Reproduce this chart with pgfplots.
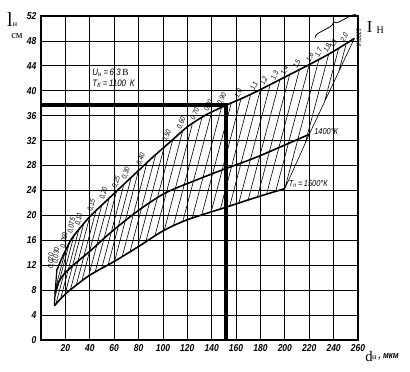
\documentclass[border=0pt]{standalone}
\usepackage{fontspec}
\setmainfont{Liberation Serif}
\newfontfamily\gost[FakeStretch=0.85]{Liberation Sans}
\usepackage{pgfplots}
\pgfplotsset{compat=1.18}
\usetikzlibrary{decorations.pathreplacing}
\newcommand\lab[4]{\node[rotate=#3,anchor=south west,inner sep=0.3pt,font=\gost\itshape\fontsize{5.5}{5.5}\selectfont] at (axis cs:#1,#2) {#4};}
\begin{document}
\begin{tikzpicture}
\useasboundingbox (-30.75pt,-23.25pt) rectangle (276.75pt,255pt);
\begin{axis}[
  at={(0,0)}, anchor=south west,
  scale only axis, width=237.75pt, height=243pt,
  xmin=0, xmax=260, ymin=0, ymax=52,
  xtick={20,40,...,260}, ytick={0,4,...,52},
  grid=major, major grid style={black, line width=0.55pt},
  major tick length=0pt,
  axis line style={black, line width=0.8pt},
  tick label style={font=\gost\itshape\bfseries\fontsize{7.5}{8}\selectfont},
  /pgf/number format/assume math mode=true,
  clip=false,
  unbounded coords=jump,
]
% hatch lines
\addplot[black, line width=0.45pt] coordinates {
(20,14.3) (12.0,8.35) (nan,nan)
(23,15.4) (11.5,6.9) (nan,nan)
(27,16.7) (12.2,5.77) (nan,nan)
(31,17.7) (16.0,6.56) (nan,nan)
(35,18.65) (19.6,7.27) (nan,nan)
(40,19.8) (24.1,8.05) (nan,nan)
(45,20.7) (28.9,8.78) (nan,nan)
(50,21.75) (33.4,9.43) (nan,nan)
(56,22.8) (39.1,10.27) (nan,nan)
(62,23.9) (44.4,10.9) (nan,nan)
(68,25) (49.75,11.47) (nan,nan)
(74,26.1) (55.05,12.05) (nan,nan)
(80,27.2) (60.35,12.64) (nan,nan)
(87,28.5) (66.6,13.39) (nan,nan)
(94,29.7) (73.0,14.16) (nan,nan)
(101,30.95) (79.4,14.93) (nan,nan)
(108,32.1) (85.9,15.74) (nan,nan)
(116,33.4) (93.4,16.68) (nan,nan)
(124,34.55) (101.1,17.6) (nan,nan)
(132,35.7) (108.5,18.27) (nan,nan)
(140,36.6) (116.2,18.96) (nan,nan)
(148,37.3) (124.0,19.55) (nan,nan)
(156,38.0) (131.8,20.04) (nan,nan)
(164,38.7) (139.5,20.53) (nan,nan)
(172,39.45) (147.1,21.02) (nan,nan)
(180,40.2) (154.8,21.51) (nan,nan)
(188,41.0) (162.3,21.99) (nan,nan)
(196,41.8) (169.9,22.47) (nan,nan)
(204,42.6) (177.5,22.95) (nan,nan)
(212,43.4) (185,23.4) (nan,nan)
(220,44.2) (192.5,23.85) (nan,nan)
(228,45.05) (200,24.3) (nan,nan)
(236,45.9) (216.6,31.5) (nan,nan)
(244,46.7) (232.5,38.2) (nan,nan)
(250,47.3) (244.4,43.2) (nan,nan)
(257,48.4) (220,33) (200,24.3)
};
% left boundary
\addplot[black, line width=0.9pt] coordinates {(11,5.5) (11.5,7.5) (13,11.2)};
% top curve
\addplot[black, line width=1.2pt, smooth] coordinates {
(13,11.2) (15,12.15) (18,13.5) (25,16.2) (33,18.2) (41,20) (55,22.6) (68,25) (80,27.2) (92,29.4) (106,31.8) (120,34.2) (135,36.1) (152,37.7) (165,38.8) (178,40) (198,42) (218,44) (238,46.1) (257,48.4)};
% middle curve (1400 K)
\addplot[black, line width=1.2pt, smooth] coordinates {
(11.5,7.5) (15,9.5) (20,10.8) (30,12.6) (41,14.4) (58,17.4) (80,20.8) (102,23.6) (129,25.8) (150,27.4) (175,29.2) (200,31.3) (220,33)};
% bottom curve (1500 K)
\addplot[black, line width=1.2pt, smooth] coordinates {
(11,5.5) (18,7) (25,8.2) (40,10.4) (60,12.6) (80,15) (100,17.5) (120,19.3) (150,21.2) (175,22.8) (200,24.3)};
% thick reading lines
\addplot[black, line width=3pt] coordinates {(0,37.7) (152,37.7) (152,0)};
% current labels
\lab{11.0}{11.3}{88}{0,020}
\lab{15}{12.15}{85}{0,030}
\lab{21}{14.6}{80}{0,050}
\lab{27}{16.9}{80}{0,075}
\lab{33}{18.2}{78}{0,10}
\lab{43}{20.4}{75}{0,15}
\lab{53}{22.3}{75}{0,20}
\lab{63}{24.1}{72}{0,25}
\lab{71}{25.6}{72}{0,30}
\lab{83}{27.8}{70}{0,40}
\lab{104}{31.5}{68}{0,50}
\lab{116}{33.6}{68}{0,60}
\lab{127}{35.1}{66}{0,70}
\lab{138}{36.4}{66}{0,80}
\lab{149}{37.4}{65}{0,90}
\lab{163}{38.6}{65}{1,0}
\lab{176}{39.8}{65}{1,1}
\lab{184}{40.6}{65}{1,2}
\lab{193}{41.5}{65}{1,3}
\lab{201}{42.3}{65}{1,4}
\lab{211}{43.3}{65}{1,5}
\lab{222}{44.4}{65}{1,6}
\lab{229}{45.15}{65}{1,7}
\lab{236}{45.9}{65}{1,8}
\lab{241}{46.5}{65}{1,9}
\lab{250}{47.6}{65}{2,0}
\node[rotate=-90,anchor=south west,inner sep=0.5pt,font=\gost\itshape\fontsize{5}{5}\selectfont] at (axis cs:258,50.2) {1300°К};
\node[anchor=west,inner sep=0pt,font=\gost\itshape\fontsize{6.5}{7}\selectfont] at (axis cs:224,33.5) {1400°К};
\node[anchor=west,inner sep=0pt,font=\gost\itshape\fontsize{6.5}{7}\selectfont] at (axis cs:203,25.0) {T\textsubscript{п}\,=\,1500°К};
\node[anchor=west,inner sep=0pt,align=left,font=\gost\itshape\fontsize{7}{8.5}\selectfont] at (axis cs:42,42) {U\textsubscript{н}\,=\,6,3\,{\rmfamily\upshape В}\\T\textsubscript{К}\,=\,1100\, К};
\end{axis}
% axis titles
\node[font=\fontsize{15}{15}\selectfont,inner sep=0pt] at (-23.25pt,240pt) {l};
\node[font=\fontsize{6}{6}\selectfont,inner sep=0pt] at (-19.5pt,236.5pt) {н};
\node[font=\fontsize{8}{8}\selectfont,inner sep=0pt] at (-18pt,228pt) {см};
\node[font=\fontsize{12.5}{12.5}\selectfont,inner sep=0pt] at (246.4pt,234.4pt) {I};
\node[font=\fontsize{7.5}{7.5}\selectfont,inner sep=0pt] at (254.5pt,232.5pt) {Н};
\draw[line width=0.6pt, decorate, decoration={brace, amplitude=4pt}] (205.5pt,226.5pt) -- (237pt,243.5pt);
\node[font=\fontsize{11}{11}\selectfont,inner sep=0pt] at (246pt,-12pt) {d};
\node[font=\fontsize{6}{6}\selectfont,inner sep=0pt] at (250pt,-13.5pt) {н};
\node[font=\gost\itshape\bfseries\fontsize{7}{7}\selectfont,inner sep=0pt,anchor=west] at (253pt,-12.5pt) {, мкм};
\end{tikzpicture}
\end{document}
